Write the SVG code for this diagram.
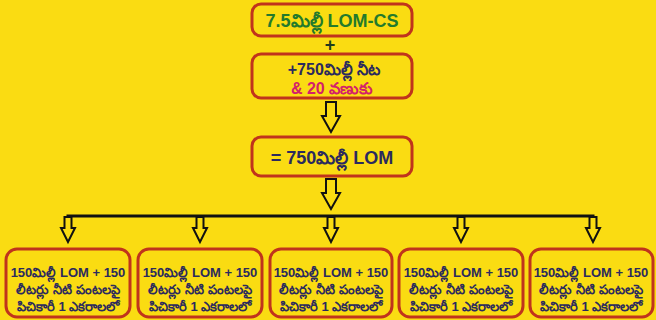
<svg xmlns="http://www.w3.org/2000/svg" width="656" height="320" viewBox="0 0 656 320">
<defs>
<style>
.box{fill:#FADC12;stroke:#C0341C;stroke-width:3}
.t{font-family:"Liberation Sans","Noto Sans",Arial,sans-serif;font-weight:bold;text-anchor:middle}
.navy{fill:#2B2A5E}
.arr{fill:#FADC12;stroke:#111;stroke-width:2;stroke-linejoin:miter}
.line{fill:none;stroke:#111;stroke-width:3}
</style>
<path id="bigArrow" class="arr" d="M-5,0 H5 V14 H9 L0,30 L-9,14 H-5 Z"/>
<path id="smallArrow" class="arr" d="M-3.5,0 H3.5 V11 H7 L0,25 L-7,11 H-3.5 Z"/>
</defs>
<rect x="0" y="0" width="656" height="320" fill="#FADC12"/>

<g id="connectors">
<text class="t" x="330" y="51" font-size="18" fill="#1E3B1E">+</text>
<use href="#bigArrow" x="331" y="102"/>
<use href="#bigArrow" x="331" y="179"/>
<path class="line" d="M68,224 V216 H593 V224"/>
<use href="#smallArrow" x="68" y="217"/>
<use href="#smallArrow" x="200" y="217"/>
<use href="#smallArrow" x="331" y="217"/>
<use href="#smallArrow" x="461" y="217"/>
<use href="#smallArrow" x="593" y="217"/>
</g>

<g id="n1">
<rect class="box" x="252" y="4" width="160" height="32" rx="9"/>
<text class="t" x="332" y="27" font-size="18" fill="#237A2C">7.5మిల్లీ LOM-CS</text>
</g>
<g id="n2">
<rect class="box" x="252" y="54" width="160" height="44" rx="9"/>
<text class="t navy" x="334" y="75" font-size="16">+750మిల్లీ నీట</text>
<text class="t" x="332" y="94" font-size="16" fill="#D3206B">&amp; 20 వణుకు</text>
</g>
<g id="n3">
<rect class="box" x="252" y="137" width="160" height="39" rx="9"/>
<text class="t navy" x="332" y="164" font-size="18">= 750మిల్లీ LOM</text>
</g>

<g id="b1">
<rect class="box" x="6" y="249" width="124" height="68" rx="11"/>
<text class="t navy" x="68" y="277" font-size="13">150మిల్లీ LOM + 150</text>
<text class="t navy" x="68" y="294" font-size="13">లీటర్లు నీటి పంటలపై</text>
<text class="t navy" x="68" y="311" font-size="13">పిచికారీ 1 ఎకరాలలో</text>
</g>
<g id="b2">
<rect class="box" x="138" y="249" width="124" height="68" rx="11"/>
<text class="t navy" x="200" y="277" font-size="13">150మిల్లీ LOM + 150</text>
<text class="t navy" x="200" y="294" font-size="13">లీటర్లు నీటి పంటలపై</text>
<text class="t navy" x="200" y="311" font-size="13">పిచికారీ 1 ఎకరాలలో</text>
</g>
<g id="b3">
<rect class="box" x="270" y="249" width="122" height="68" rx="11"/>
<text class="t navy" x="331" y="277" font-size="13">150మిల్లీ LOM + 150</text>
<text class="t navy" x="331" y="294" font-size="13">లీటర్లు నీటి పంటలపై</text>
<text class="t navy" x="331" y="311" font-size="13">పిచికారీ 1 ఎకరాలలో</text>
</g>
<g id="b4">
<rect class="box" x="399" y="249" width="124" height="68" rx="11"/>
<text class="t navy" x="461" y="277" font-size="13">150మిల్లీ LOM + 150</text>
<text class="t navy" x="461" y="294" font-size="13">లీటర్లు నీటి పంటలపై</text>
<text class="t navy" x="461" y="311" font-size="13">పిచికారీ 1 ఎకరాలలో</text>
</g>
<g id="b5">
<rect class="box" x="530" y="249" width="123" height="68" rx="11"/>
<text class="t navy" x="591" y="277" font-size="13">150మిల్లీ LOM + 150</text>
<text class="t navy" x="591" y="294" font-size="13">లీటర్లు నీటి పంటలపై</text>
<text class="t navy" x="591" y="311" font-size="13">పిచికారీ 1 ఎకరాలలో</text>
</g>
</svg>
